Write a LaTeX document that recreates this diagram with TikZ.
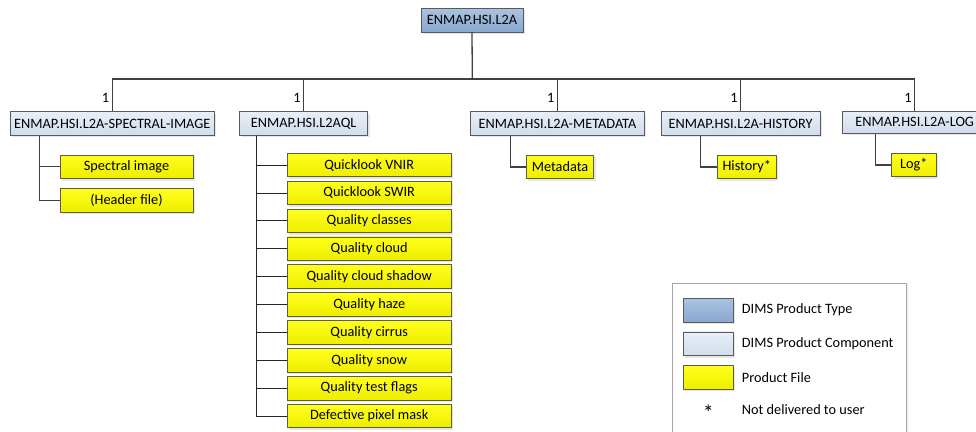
\documentclass[tikz,border=0pt]{standalone}
\usepackage{fontspec}
\setmainfont{Carlito}
\usetikzlibrary{shapes,arrows,positioning,calc,shadows}

\definecolor{typetop}{RGB}{170,195,225}
\definecolor{typebot}{RGB}{136,168,206}
\definecolor{comptop}{RGB}{232,239,247}
\definecolor{compbot}{RGB}{208,221,236}
\definecolor{filetop}{RGB}{255,255,30}
\definecolor{filebot}{RGB}{238,238,0}
\definecolor{boxline}{RGB}{90,90,90}
\definecolor{fileline}{RGB}{95,95,60}
\definecolor{linegray}{RGB}{64,64,64}

\begin{document}
\begin{tikzpicture}[x=1pt, y=-1pt, font=\fontsize{14.3}{16}\selectfont]
\tikzstyle{ptype} = [rectangle, draw=boxline, line width=0.8pt, top color=typetop, bottom color=typebot, minimum height=24pt, inner xsep=3pt, inner ysep=1pt, drop shadow={shadow xshift=2pt, shadow yshift=-2pt, opacity=0.2}]
\tikzstyle{pcomp} = [rectangle, draw=boxline, line width=0.8pt, top color=comptop, bottom color=compbot, minimum height=23.6pt, inner xsep=3pt, inner ysep=1pt, drop shadow={shadow xshift=2pt, shadow yshift=-2pt, opacity=0.2}]
\tikzstyle{pfile} = [rectangle, draw=fileline, line width=0.8pt, top color=filetop, bottom color=filebot, minimum height=23.5pt, inner xsep=3pt, inner ysep=1pt, drop shadow={shadow xshift=2pt, shadow yshift=-2pt, opacity=0.2}]
\tikzstyle{link} = [draw=linegray, line width=1.3pt]
\tikzstyle{tick} = [draw=black!85, line width=0.8pt]
\tikzstyle{mult} = [left, inner sep=2.5pt]
\tikzstyle{legtext} = [anchor=west, inner sep=0pt]

\useasboundingbox (0,0) rectangle (976,431);

% product type
\node [ptype, minimum width=102pt] (root) at (472,20) {ENMAP.HSI.L2A};

% components
\node [pcomp, minimum width=204pt] (spec) at (112.3,123.5) {ENMAP.HSI.L2A-SPECTRAL-IMAGE};
\node [pcomp, minimum width=128pt] (ql) at (303.7,123.5) {ENMAP.HSI.L2AQL};
\node [pcomp, minimum width=173.6pt] (meta) at (557.5,123.5) {ENMAP.HSI.L2A-METADATA};
\node [pcomp, minimum width=158.7pt] (hist) at (740.7,123.5) {ENMAP.HSI.L2A-HISTORY};
\node [pcomp, minimum width=144pt, minimum height=22.3pt] (log) at (914.7,122.2) {ENMAP.HSI.L2A-LOG};

% files
\node [pfile, minimum width=133pt] (specimg) at (126.5,166.8) {Spectral image};
\node [pfile, minimum width=133pt, below=9.5pt of specimg] (hdr) {(Header file)};

\node [pfile, minimum width=163.7pt] (ql1) at (369.2,165) {Quicklook VNIR};
\node [pfile, minimum width=163.7pt, below=3.6pt of ql1] (ql2) {Quicklook SWIR};
\node [pfile, minimum width=163.7pt, below=3.6pt of ql2] (ql3) {Quality classes};
\node [pfile, minimum width=163.7pt, below=3.6pt of ql3] (ql4) {Quality cloud};
\node [pfile, minimum width=163.7pt, below=3.6pt of ql4] (ql5) {Quality cloud shadow};
\node [pfile, minimum width=163.7pt, below=3.6pt of ql5] (ql6) {Quality haze};
\node [pfile, minimum width=163.7pt, below=3.6pt of ql6] (ql7) {Quality cirrus};
\node [pfile, minimum width=163.7pt, below=3.6pt of ql7] (ql8) {Quality snow};
\node [pfile, minimum width=163.7pt, below=3.6pt of ql8] (ql9) {Quality test flags};
\node [pfile, minimum width=163.7pt, below=3.6pt of ql9] (ql10) {Defective pixel mask};

\node [pfile, minimum width=67.4pt] (metafile) at (560,167) {Metadata};
\node [pfile, minimum width=59pt] (histfile) at (746.8,167) {History*};
\node [pfile, minimum width=44.3pt] (logfile) at (913.8,165) {Log*};

% legend
\node [rectangle, draw=gray!70, fill=white, minimum width=234.3pt, minimum height=160pt, anchor=north west, drop shadow={shadow xshift=1.5pt, shadow yshift=-1.5pt, opacity=0.15}] (legend) at (671.7,282.7) {};
\node [ptype, minimum width=50pt] (legtype) at (708.3,310.3) {};
\node [pcomp, minimum width=50pt] (legcomp) at (708.3,343.7) {};
\node [pfile, minimum width=50pt] (legfile) at (708.3,377.5) {};
\node [font=\fontsize{22}{22}\selectfont, inner sep=0pt] (legstar) at (708.3,413) {*};
\node [legtext] (legtypetext) at (741.7,310) {DIMS Product Type};
\node [legtext] (legcomptext) at (741.7,343.7) {DIMS Product Component};
\node [legtext] (legfiletext) at (741.7,377.7) {Product File};
\node [legtext] (legstartext) at (741.7,409.3) {Not delivered to user};

% tree
\coordinate (bus) at (472.3,79);
\draw [link] (root.south) -- (bus);
\draw [link] (bus) -| (spec.north) node [mult, pos=0.8] {1};
\draw [link] (bus) -| (ql.north) node [mult, pos=0.8] {1};
\draw [link] (bus) -| (meta.north) node [mult, pos=0.8] {1};
\draw [link] (bus) -| (hist.north) node [mult, pos=0.8] {1};
\draw [link] (bus) -| (log.north) node [mult, pos=0.8] {1};

\coordinate (spectrunk) at ($(spec.south west)+(29.7,0)$);
\draw [link] (spectrunk) |- (specimg.west);
\draw [link] (spectrunk) |- (hdr.west);

\coordinate (qltrunk) at ($(ql.south west)+(16.6,0)$);
\draw [tick] (qltrunk) |- (ql1.west);
\draw [tick] (qltrunk) |- (ql2.west);
\draw [tick] (qltrunk) |- (ql3.west);
\draw [tick] (qltrunk) |- (ql4.west);
\draw [tick] (qltrunk) |- (ql5.west);
\draw [tick] (qltrunk) |- (ql6.west);
\draw [tick] (qltrunk) |- (ql7.west);
\draw [tick] (qltrunk) |- (ql8.west);
\draw [tick] (qltrunk) |- (ql9.west);
\draw [tick] (qltrunk) |- (ql10.west);

\coordinate (metatrunk) at ($(meta.south west)+(40,0)$);
\draw [link] (metatrunk) |- (metafile.west);
\coordinate (histtrunk) at ($(hist.south west)+(39.7,0)$);
\draw [link] (histtrunk) |- (histfile.west);
\coordinate (logtrunk) at ($(log.south west)+(33,0)$);
\draw [link] (logtrunk) |- (logfile.west);
\end{tikzpicture}
\end{document}
